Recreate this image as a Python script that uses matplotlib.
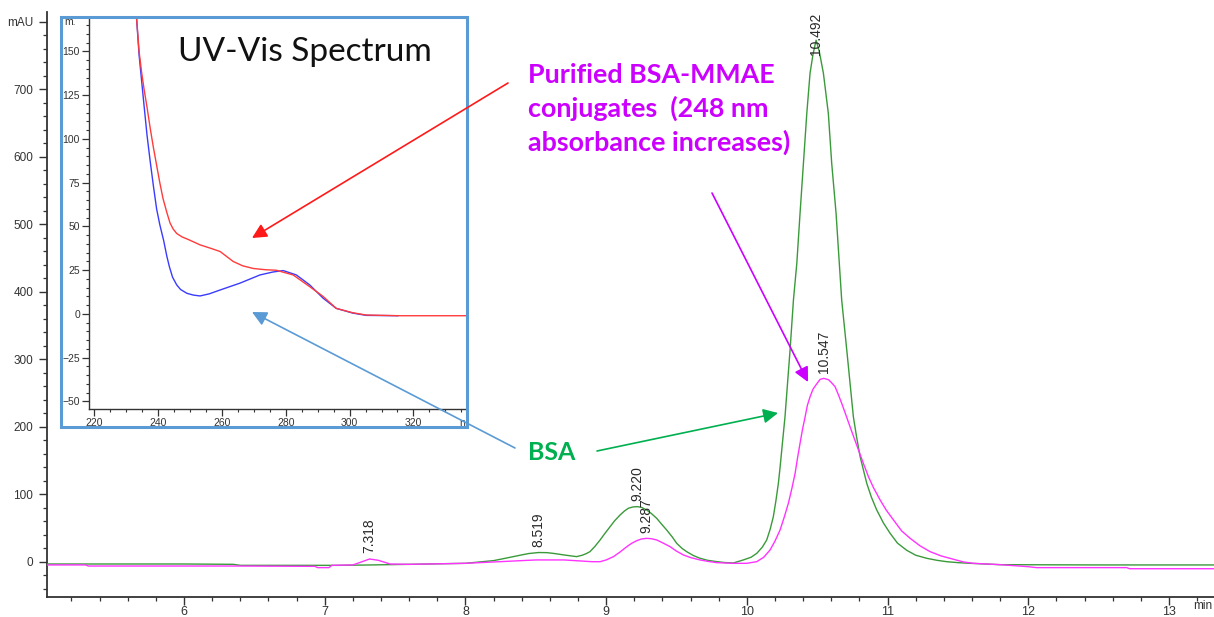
import numpy as np
import matplotlib
matplotlib.use("Agg")
import matplotlib.pyplot as plt
from matplotlib.ticker import MultipleLocator, FixedLocator
from matplotlib.patches import Rectangle, FancyArrowPatch

# ---------------- data ----------------
# Chromatogram, green trace (BSA) : time (min), absorbance (mAU)
green_t = [5.03, 5.5, 6.0, 6.35, 6.4, 7.0, 7.1, 7.3, 7.6, 8.0, 8.2, 8.26, 8.34, 8.40,
           8.45, 8.52, 8.58, 8.64, 8.70, 8.75, 8.79, 8.83, 8.86, 8.885, 8.92, 8.957,
           8.99, 9.028, 9.06, 9.099, 9.13, 9.158, 9.19, 9.22, 9.25, 9.288, 9.32,
           9.359, 9.39, 9.43, 9.47, 9.501, 9.54, 9.572, 9.62, 9.667, 9.72, 9.785,
           9.84, 9.904, 9.975, 10.03, 10.071, 10.11, 10.141, 10.165, 10.188, 10.206,
           10.224, 10.236, 10.248, 10.271, 10.307, 10.331, 10.355, 10.378, 10.402,
           10.426, 10.449, 10.47, 10.492, 10.515, 10.544, 10.579, 10.603, 10.634,
           10.657, 10.674, 10.710, 10.757, 10.78, 10.805, 10.83, 10.852, 10.885,
           10.923, 10.97, 11.018, 11.07, 11.136, 11.2, 11.279, 11.35, 11.421, 11.5,
           11.587, 11.8, 12.5, 13.33]
green_v = [-3, -3, -3, -3.5, -5, -5, -5, -4.5, -3.5, -2, 2, 4.5, 7.9, 10.5,
           12.5, 14, 13.8, 12.3, 10.4, 9, 7.9, 10, 12.5, 15.3, 23, 32.6,
           42, 52.3, 61, 69.6, 75.5, 79.6, 81.5, 82, 81, 77, 72,
           64.7, 57, 47.4, 37, 27.7, 20, 15.3, 9.5, 5.5, 2.5, 0.5,
           -0.8, -1.5, 3, 7, 12.9, 22, 32.6, 48, 67, 90,
           116.6, 140, 166, 215, 314, 388, 442.5, 516.6, 590.6,
           664.7, 724, 752, 773, 756, 724, 664.7, 590.6, 516.6,
           442.5, 388, 314, 215, 185, 156, 135, 116.6, 96,
           77, 58, 42.5, 28, 17.3, 10, 5.4, 2.5, 0.4, -1,
           -2, -4, -4.4, -4.4]

# Chromatogram, magenta trace (BSA-MMAE conjugate)
mag_t = [5.03, 5.3, 5.32, 6.4, 6.93, 6.95, 7.03, 7.05, 7.2, 7.26, 7.318, 7.38, 7.464,
         7.6, 8.0, 8.3, 8.5, 8.7, 8.9, 8.957, 9.0, 9.052, 9.10, 9.147, 9.18, 9.218,
         9.25, 9.287, 9.32, 9.359, 9.40, 9.454, 9.50, 9.549, 9.60, 9.667, 9.72,
         9.785, 9.9, 10.0, 10.071, 10.12, 10.165, 10.20, 10.236, 10.265, 10.295,
         10.32, 10.343, 10.36, 10.378, 10.395, 10.414, 10.43, 10.449, 10.47, 10.497,
         10.52, 10.547, 10.58, 10.60, 10.627, 10.65, 10.674, 10.70, 10.733, 10.76,
         10.793, 10.83, 10.864, 10.90, 10.947, 10.99, 11.042, 11.10, 11.16, 11.23,
         11.302, 11.38, 11.468, 11.54, 11.61, 11.8, 12.0, 12.06, 12.70, 12.72, 13.33]
mag_v = [-4.4, -4.4, -6, -6, -6.5, -8.4, -8.4, -5, -4.4, 0, 4.4, 2.5, -3,
         -3.5, -2, 1, 3, 3, 0.4, 0.4, 3, 7.9, 15, 22.7, 27.5, 31.6,
         34, 35, 34.5, 32.6, 28.5, 22.7, 16, 10.4, 6.5, 3, 1,
         -1, -2, -2, 0.5, 7, 17.8, 31, 47.4, 66, 87,
         109, 131.4, 154, 175.8, 196, 215, 232, 244.7, 256, 264,
         270.5, 272, 270, 266, 259.6, 248, 235, 220, 200.5, 185,
         166, 145, 126.4, 110, 91.9, 77, 62.2, 46, 35.1, 24,
         15.3, 9, 4, 0, -2, -4, -7, -8.4, -8.4, -10, -10]

# Peak retention-time labels
peak_labels = ["7.318", "8.519", "9.220", "9.287", "10.492", "10.547"]
peak_times = [7.318, 8.519, 9.220, 9.287, 10.492, 10.547]
peak_series = ["mag", "green", "green", "mag", "green", "mag"]

# UV-Vis spectrum inset: wavelength (nm), absorbance (mAU)
red_wl = [233.1, 234.0, 234.8, 235.6, 236.5, 237.5, 238.5, 239.6, 240.5, 241.5,
          242.7, 243.7, 244.7, 245.8, 247.5, 249.5, 253.1, 256.5, 259.4,
          263.5, 266.5, 269.8, 273.5, 277.0, 282.3, 287.5, 291.7, 295.8, 301.0,
          305.2, 315.6, 336.5]
red_ab = [172, 150, 138, 128, 118, 106, 95, 84, 75, 66,
          58, 52, 48.5, 46, 44, 42.5, 39.5, 37.5, 35.7,
          30, 27.5, 26, 25.3, 25, 22.3, 15.6, 10, 3.2, 0.7,
          -0.6, -1, -1]
blue_wl = [233.1, 234.0, 235.4, 236.5, 237.5, 238.5, 239.5, 240.5, 241.7, 242.7,
           243.5, 244.5, 245.8, 247.0, 249.0, 251.0, 253.1, 256.0,
           259.4, 265.6, 271.9, 276.0, 279.2, 283.3, 287.5, 291.7, 295.8, 301.0,
           305.2, 315.1]
blue_ab = [172, 148, 122, 102, 87, 73, 60, 51, 42, 33,
           27, 21, 16.6, 14, 11.8, 10.8, 10.3, 11.5,
           13.7, 17.6, 22.3, 24, 24.8, 22.3, 16.6, 9, 3.2, 0.5,
           -0.8, -1]

main_yticks = [0, 100, 200, 300, 400, 500, 600, 700, 800]
main_ytick_labels = ["0", "100", "200", "300", "400", "500", "600", "700", "mAU"]
main_xticks = [6, 7, 8, 9, 10, 11, 12, 13]
inset_xticks = [220, 240, 260, 280, 300, 320]
inset_yticks = [-50, -25, 0, 25, 50, 75, 100, 125, 150]

# ---------------- layout ----------------
W, H = 1214, 617
fig = plt.figure(figsize=(W / 100, H / 100), dpi=100)
fig.patch.set_facecolor("white")

def fx(px):
    return px / W

def fy(py):
    return 1 - py / H

TICK_FONT = "Liberation Sans"
TXT = "#333333"
GREEN = "#3A9A3A"
MAGENTA = "#FF33FF"

ax = fig.add_axes([fx(47), fy(597), 1 - fx(47), (597 - 12) / H])
ax.set_xlim(5.026, 13.32)
ax.set_ylim(-51.9, 814.8)
for s in ["top", "right"]:
    ax.spines[s].set_visible(False)
for s in ["left", "bottom"]:
    ax.spines[s].set_color(TXT)
    ax.spines[s].set_linewidth(1.3)

ax.plot(green_t, green_v, color=GREEN, lw=1.0, zorder=3)
ax.plot(mag_t, mag_v, color=MAGENTA, lw=1.0, zorder=3)

ax.xaxis.set_major_locator(FixedLocator(main_xticks))
ax.xaxis.set_minor_locator(MultipleLocator(0.2))
ax.yaxis.set_major_locator(FixedLocator(main_yticks))
ax.yaxis.set_minor_locator(MultipleLocator(20))
ax.set_yticklabels(main_ytick_labels)
ax.tick_params(which="major", direction="out", length=6, width=1.0, color=TXT,
               labelsize=8.5, labelcolor=TXT)
ax.tick_params(which="minor", direction="out", length=3, width=0.9, color=TXT)
ax.tick_params(axis="x", pad=0.3, labelsize=9)
ax.tick_params(axis="y", pad=4)
for lab in ax.get_xticklabels() + ax.get_yticklabels():
    lab.set_fontfamily(TICK_FONT)

fig.text(fx(1193), fy(606), "min", fontsize=8.5, color=TXT, family=TICK_FONT,
         ha="left", va="center")

# peak labels
for lab, t, ser in zip(peak_labels, peak_times, peak_series):
    tt = green_t if ser == "green" else mag_t
    vv = green_v if ser == "green" else mag_v
    apex = np.interp(t, tt, vv)
    off = -11 if lab == "10.492" else 4
    ax.annotate(lab, (t, apex), xytext=(0, off), textcoords="offset points",
                rotation=90, ha="center", va="bottom", fontsize=10,
                color="#2a2a2a", family=TICK_FONT, zorder=4)

# ---------------- inset ----------------
box_fill = Rectangle((fx(61), fy(427)), (467 - 61) / W, (427 - 17) / H,
                     transform=fig.transFigure, facecolor="white",
                     edgecolor="none", zorder=1)
fig.add_artist(box_fill)

iax = fig.add_axes([fx(89), fy(409), (467 - 89) / W, (409 - 17) / H], zorder=2)
iax.set_facecolor("none")
iax.set_xlim(218.3, 336.8)
iax.set_ylim(-54.3, 169.7)
for s in ["top", "right"]:
    iax.spines[s].set_visible(False)
for s in ["left", "bottom"]:
    iax.spines[s].set_color(TXT)
    iax.spines[s].set_linewidth(1.0)
iax.plot(red_wl, red_ab, color="#FF3B3B", lw=1.0, zorder=3)
iax.plot(blue_wl, blue_ab, color="#3B3BFF", lw=1.0, zorder=2)
iax.xaxis.set_major_locator(FixedLocator(inset_xticks))
iax.xaxis.set_minor_locator(MultipleLocator(5))
iax.yaxis.set_major_locator(FixedLocator(inset_yticks))
iax.yaxis.set_minor_locator(MultipleLocator(5))
iax.tick_params(which="major", direction="out", length=5, width=0.9, color=TXT,
                labelsize=7.5, labelcolor=TXT, pad=1.5)
iax.tick_params(which="minor", direction="out", length=2.5, width=0.8, color=TXT)
for lab in iax.get_xticklabels() + iax.get_yticklabels():
    lab.set_fontfamily(TICK_FONT)

fig.text(fx(64), fy(22), "m.", fontsize=7.5, color=TXT, family=TICK_FONT,
         ha="left", va="center", zorder=5)
fig.text(fx(459), fy(423), "n", fontsize=7.5, color=TXT, family=TICK_FONT,
         ha="left", va="center", zorder=5)

box_edge = Rectangle((fx(61), fy(427)), (467 - 61) / W, (427 - 17) / H,
                     transform=fig.transFigure, facecolor="none",
                     edgecolor="#5B9BD5", lw=2.2, zorder=3)
fig.add_artist(box_edge)

fig.text(fx(178), fy(52), "UV-Vis Spectrum", fontsize=24, family="Lato",
         color="#111111", ha="left", va="center", zorder=5)

# ---------------- annotations ----------------
def arrow(p0, p1, color):
    a = FancyArrowPatch((fx(p0[0]), fy(p0[1])), (fx(p1[0]), fy(p1[1])),
                        transform=fig.transFigure, arrowstyle="-|>",
                        mutation_scale=22, color=color, lw=1.2,
                        shrinkA=0, shrinkB=0, zorder=6)
    fig.add_artist(a)

arrow((508, 83), (252, 238), "#FF1A1A")
arrow((515, 448), (252, 312), "#5B9BD5")
arrow((597, 451), (778, 413), "#00B050")
arrow((712, 193), (808, 382), "#CC00FF")

fig.text(fx(528), fy(109), "Purified BSA-MMAE\nconjugates  (248 nm\nabsorbance increases)",
         fontsize=19.4, fontweight="bold", family="Lato", color="#CC00FF",
         ha="left", va="center", linespacing=1.42, zorder=6)
fig.text(fx(528), fy(452), "BSA", fontsize=18, fontweight="bold", family="Lato",
         color="#00B050", ha="left", va="center", zorder=6)

fig.savefig("out.png", dpi=100, facecolor="white")
